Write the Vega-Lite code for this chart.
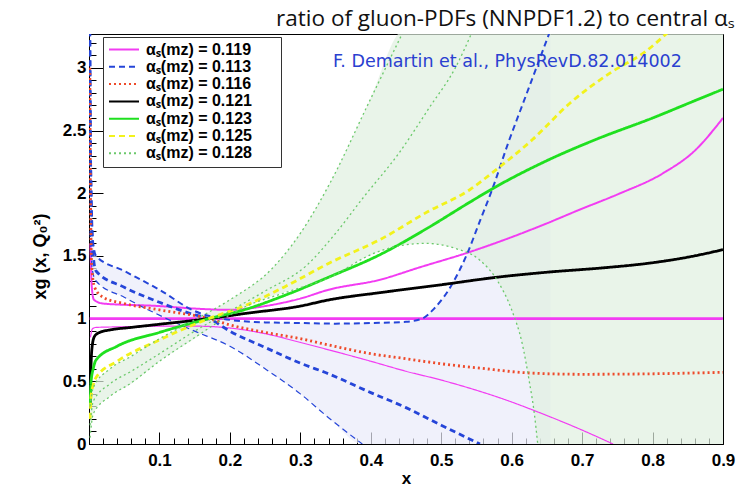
{
  "$schema": "https://vega.github.io/schema/vega-lite/v6.json",
  "width": 634,
  "height": 410,
  "autosize": {"type": "none"},
  "padding": {"left": 89, "top": 34, "right": 14, "bottom": 44},
  "background": "white",
  "config": {"view": {"stroke": "#000", "strokeWidth": 1}},
  "title": {"text": "ratio of gluon-PDFs (NNPDF1.2) to central αₛ", "font": "Open Sans", "fontSize": 22.5, "fontWeight": "normal", "color": "#111", "anchor": "end", "offset": 3},
  "datasets": {
    "notes": [
      {"note": "F. Demartin et al., PhysRevD.82.014002", "x": 0.594, "y": 3.05}
    ],
    "bands": [
      {"b": "0.113", "x": 0.0015, "y": 1.7, "hi": 3.3},
      {"b": "0.113", "x": 0.006, "y": 1.35, "hi": 1.6},
      {"b": "0.113", "x": 0.01, "y": 1.3, "hi": 1.5},
      {"b": "0.113", "x": 0.05, "y": 1.17, "hi": 1.38},
      {"b": "0.113", "x": 0.11, "y": 1.0, "hi": 1.2},
      {"b": "0.113", "x": 0.15, "y": 0.9, "hi": 1.06},
      {"b": "0.113", "x": 0.2, "y": 0.78, "hi": 0.99},
      {"b": "0.113", "x": 0.25, "y": 0.6, "hi": 0.97},
      {"b": "0.113", "x": 0.3, "y": 0.4, "hi": 0.965},
      {"b": "0.113", "x": 0.34, "y": 0.21, "hi": 0.96},
      {"b": "0.113", "x": 0.388, "y": 0, "hi": 0.965},
      {"b": "0.113", "x": 0.45, "y": 0, "hi": 0.975},
      {"b": "0.113", "x": 0.473, "y": 0, "hi": 1.0},
      {"b": "0.113", "x": 0.49, "y": 0, "hi": 1.08},
      {"b": "0.113", "x": 0.516, "y": 0, "hi": 1.28},
      {"b": "0.113", "x": 0.537, "y": 0, "hi": 1.52},
      {"b": "0.113", "x": 0.555, "y": 0, "hi": 1.78},
      {"b": "0.113", "x": 0.573, "y": 0, "hi": 2.04},
      {"b": "0.113", "x": 0.595, "y": 0, "hi": 2.4},
      {"b": "0.113", "x": 0.617, "y": 0, "hi": 2.73},
      {"b": "0.113", "x": 0.635, "y": 0, "hi": 3.0},
      {"b": "0.113", "x": 0.655, "y": 0, "hi": 3.3},
      {"b": "0.128", "x": 0.0015, "y": 0.05, "hi": 0.3},
      {"b": "0.128", "x": 0.006, "y": 0.24, "hi": 0.45},
      {"b": "0.128", "x": 0.03, "y": 0.38, "hi": 0.6},
      {"b": "0.128", "x": 0.06, "y": 0.48, "hi": 0.7},
      {"b": "0.128", "x": 0.1, "y": 0.66, "hi": 0.84},
      {"b": "0.128", "x": 0.15, "y": 0.84, "hi": 0.99},
      {"b": "0.128", "x": 0.2, "y": 1.03, "hi": 1.15},
      {"b": "0.128", "x": 0.26, "y": 1.18, "hi": 1.4},
      {"b": "0.128", "x": 0.3, "y": 1.25, "hi": 1.68},
      {"b": "0.128", "x": 0.342, "y": 1.33, "hi": 2.08},
      {"b": "0.128", "x": 0.397, "y": 1.5, "hi": 2.72},
      {"b": "0.128", "x": 0.447, "y": 1.59, "hi": 3.3},
      {"b": "0.128", "x": 0.478, "y": 1.6, "hi": 3.3},
      {"b": "0.128", "x": 0.52, "y": 1.56, "hi": 3.3},
      {"b": "0.128", "x": 0.554, "y": 1.47, "hi": 3.3},
      {"b": "0.128", "x": 0.58, "y": 1.3, "hi": 3.3},
      {"b": "0.128", "x": 0.6, "y": 1.07, "hi": 3.3},
      {"b": "0.128", "x": 0.615, "y": 0.8, "hi": 3.3},
      {"b": "0.128", "x": 0.625, "y": 0.5, "hi": 3.3},
      {"b": "0.128", "x": 0.632, "y": 0.25, "hi": 3.3},
      {"b": "0.128", "x": 0.637, "y": 0, "hi": 3.3},
      {"b": "0.128", "x": 0.9, "y": 0, "hi": 3.3}
    ],
    "lines": [
      {"s": "0.119", "k": "central", "x": 0.001, "y": 1},
      {"s": "0.119", "k": "central", "x": 0.9, "y": 1},
      {"s": "0.119", "k": "upper", "x": 0.002, "y": 1.6},
      {"s": "0.119", "k": "upper", "x": 0.004, "y": 1.25},
      {"s": "0.119", "k": "upper", "x": 0.007, "y": 1.15},
      {"s": "0.119", "k": "upper", "x": 0.02, "y": 1.12},
      {"s": "0.119", "k": "upper", "x": 0.1, "y": 1.1},
      {"s": "0.119", "k": "upper", "x": 0.15, "y": 1.08},
      {"s": "0.119", "k": "upper", "x": 0.2, "y": 1.07},
      {"s": "0.119", "k": "upper", "x": 0.25, "y": 1.1},
      {"s": "0.119", "k": "upper", "x": 0.3, "y": 1.16},
      {"s": "0.119", "k": "upper", "x": 0.34, "y": 1.23},
      {"s": "0.119", "k": "upper", "x": 0.413, "y": 1.31},
      {"s": "0.119", "k": "upper", "x": 0.47, "y": 1.41},
      {"s": "0.119", "k": "upper", "x": 0.538, "y": 1.527},
      {"s": "0.119", "k": "upper", "x": 0.6, "y": 1.65},
      {"s": "0.119", "k": "upper", "x": 0.65, "y": 1.76},
      {"s": "0.119", "k": "upper", "x": 0.697, "y": 1.87},
      {"s": "0.119", "k": "upper", "x": 0.75, "y": 1.99},
      {"s": "0.119", "k": "upper", "x": 0.815, "y": 2.16},
      {"s": "0.119", "k": "upper", "x": 0.86, "y": 2.34},
      {"s": "0.119", "k": "upper", "x": 0.9, "y": 2.6},
      {"s": "0.119", "k": "lower", "x": 0.002, "y": 0.85},
      {"s": "0.119", "k": "lower", "x": 0.005, "y": 0.92},
      {"s": "0.119", "k": "lower", "x": 0.01, "y": 0.93},
      {"s": "0.119", "k": "lower", "x": 0.05, "y": 0.935},
      {"s": "0.119", "k": "lower", "x": 0.1, "y": 0.94},
      {"s": "0.119", "k": "lower", "x": 0.15, "y": 0.94},
      {"s": "0.119", "k": "lower", "x": 0.2, "y": 0.925},
      {"s": "0.119", "k": "lower", "x": 0.25, "y": 0.88},
      {"s": "0.119", "k": "lower", "x": 0.3, "y": 0.81},
      {"s": "0.119", "k": "lower", "x": 0.341, "y": 0.75},
      {"s": "0.119", "k": "lower", "x": 0.4, "y": 0.66},
      {"s": "0.119", "k": "lower", "x": 0.45, "y": 0.58},
      {"s": "0.119", "k": "lower", "x": 0.5, "y": 0.51},
      {"s": "0.119", "k": "lower", "x": 0.541, "y": 0.444},
      {"s": "0.119", "k": "lower", "x": 0.59, "y": 0.355},
      {"s": "0.119", "k": "lower", "x": 0.636, "y": 0.258},
      {"s": "0.119", "k": "lower", "x": 0.69, "y": 0.135},
      {"s": "0.119", "k": "lower", "x": 0.744, "y": 0},
      {"s": "0.113", "k": "central", "x": 0.0012, "y": 3.3},
      {"s": "0.113", "k": "central", "x": 0.002, "y": 2.4},
      {"s": "0.113", "k": "central", "x": 0.004, "y": 1.7},
      {"s": "0.113", "k": "central", "x": 0.007, "y": 1.45},
      {"s": "0.113", "k": "central", "x": 0.01, "y": 1.38},
      {"s": "0.113", "k": "central", "x": 0.05, "y": 1.25},
      {"s": "0.113", "k": "central", "x": 0.1, "y": 1.13},
      {"s": "0.113", "k": "central", "x": 0.15, "y": 1.03},
      {"s": "0.113", "k": "central", "x": 0.17, "y": 1.0},
      {"s": "0.113", "k": "central", "x": 0.2, "y": 0.9},
      {"s": "0.113", "k": "central", "x": 0.25, "y": 0.77},
      {"s": "0.113", "k": "central", "x": 0.3, "y": 0.645},
      {"s": "0.113", "k": "central", "x": 0.34, "y": 0.56},
      {"s": "0.113", "k": "central", "x": 0.4, "y": 0.41},
      {"s": "0.113", "k": "central", "x": 0.45, "y": 0.29},
      {"s": "0.113", "k": "central", "x": 0.5, "y": 0.15},
      {"s": "0.113", "k": "central", "x": 0.555, "y": 0},
      {"s": "0.113", "k": "upper", "x": 0.0015, "y": 3.3},
      {"s": "0.113", "k": "upper", "x": 0.003, "y": 2.2},
      {"s": "0.113", "k": "upper", "x": 0.006, "y": 1.6},
      {"s": "0.113", "k": "upper", "x": 0.01, "y": 1.5},
      {"s": "0.113", "k": "upper", "x": 0.05, "y": 1.38},
      {"s": "0.113", "k": "upper", "x": 0.1, "y": 1.23},
      {"s": "0.113", "k": "upper", "x": 0.15, "y": 1.06},
      {"s": "0.113", "k": "upper", "x": 0.2, "y": 0.99},
      {"s": "0.113", "k": "upper", "x": 0.25, "y": 0.97},
      {"s": "0.113", "k": "upper", "x": 0.3, "y": 0.965},
      {"s": "0.113", "k": "upper", "x": 0.35, "y": 0.96},
      {"s": "0.113", "k": "upper", "x": 0.4, "y": 0.965},
      {"s": "0.113", "k": "upper", "x": 0.45, "y": 0.975},
      {"s": "0.113", "k": "upper", "x": 0.473, "y": 1.0},
      {"s": "0.113", "k": "upper", "x": 0.49, "y": 1.08},
      {"s": "0.113", "k": "upper", "x": 0.516, "y": 1.28},
      {"s": "0.113", "k": "upper", "x": 0.537, "y": 1.52},
      {"s": "0.113", "k": "upper", "x": 0.555, "y": 1.78},
      {"s": "0.113", "k": "upper", "x": 0.573, "y": 2.04},
      {"s": "0.113", "k": "upper", "x": 0.595, "y": 2.4},
      {"s": "0.113", "k": "upper", "x": 0.617, "y": 2.73},
      {"s": "0.113", "k": "upper", "x": 0.635, "y": 3.0},
      {"s": "0.113", "k": "upper", "x": 0.655, "y": 3.3},
      {"s": "0.113", "k": "lower", "x": 0.0015, "y": 1.7},
      {"s": "0.113", "k": "lower", "x": 0.005, "y": 1.38},
      {"s": "0.113", "k": "lower", "x": 0.01, "y": 1.3},
      {"s": "0.113", "k": "lower", "x": 0.05, "y": 1.17},
      {"s": "0.113", "k": "lower", "x": 0.11, "y": 1.0},
      {"s": "0.113", "k": "lower", "x": 0.15, "y": 0.9},
      {"s": "0.113", "k": "lower", "x": 0.2, "y": 0.78},
      {"s": "0.113", "k": "lower", "x": 0.25, "y": 0.6},
      {"s": "0.113", "k": "lower", "x": 0.3, "y": 0.4},
      {"s": "0.113", "k": "lower", "x": 0.34, "y": 0.21},
      {"s": "0.113", "k": "lower", "x": 0.388, "y": 0},
      {"s": "0.116", "k": "central", "x": 0.0012, "y": 3.0},
      {"s": "0.116", "k": "central", "x": 0.002, "y": 2.0},
      {"s": "0.116", "k": "central", "x": 0.004, "y": 1.4},
      {"s": "0.116", "k": "central", "x": 0.008, "y": 1.25},
      {"s": "0.116", "k": "central", "x": 0.02, "y": 1.17},
      {"s": "0.116", "k": "central", "x": 0.05, "y": 1.12},
      {"s": "0.116", "k": "central", "x": 0.1, "y": 1.07},
      {"s": "0.116", "k": "central", "x": 0.17, "y": 1.0},
      {"s": "0.116", "k": "central", "x": 0.2, "y": 0.95},
      {"s": "0.116", "k": "central", "x": 0.25, "y": 0.89},
      {"s": "0.116", "k": "central", "x": 0.3, "y": 0.84},
      {"s": "0.116", "k": "central", "x": 0.34, "y": 0.79},
      {"s": "0.116", "k": "central", "x": 0.4, "y": 0.72},
      {"s": "0.116", "k": "central", "x": 0.45, "y": 0.68},
      {"s": "0.116", "k": "central", "x": 0.5, "y": 0.64},
      {"s": "0.116", "k": "central", "x": 0.555, "y": 0.605},
      {"s": "0.116", "k": "central", "x": 0.626, "y": 0.566},
      {"s": "0.116", "k": "central", "x": 0.7, "y": 0.556},
      {"s": "0.116", "k": "central", "x": 0.8, "y": 0.56},
      {"s": "0.116", "k": "central", "x": 0.9, "y": 0.572},
      {"s": "0.121", "k": "central", "x": 0.0015, "y": 0.3},
      {"s": "0.121", "k": "central", "x": 0.003, "y": 0.65},
      {"s": "0.121", "k": "central", "x": 0.005, "y": 0.8},
      {"s": "0.121", "k": "central", "x": 0.008, "y": 0.86},
      {"s": "0.121", "k": "central", "x": 0.015, "y": 0.89},
      {"s": "0.121", "k": "central", "x": 0.03, "y": 0.91},
      {"s": "0.121", "k": "central", "x": 0.06, "y": 0.93},
      {"s": "0.121", "k": "central", "x": 0.1, "y": 0.955},
      {"s": "0.121", "k": "central", "x": 0.17, "y": 1.0},
      {"s": "0.121", "k": "central", "x": 0.22, "y": 1.04},
      {"s": "0.121", "k": "central", "x": 0.3, "y": 1.1},
      {"s": "0.121", "k": "central", "x": 0.341, "y": 1.15},
      {"s": "0.121", "k": "central", "x": 0.413, "y": 1.207},
      {"s": "0.121", "k": "central", "x": 0.5, "y": 1.27},
      {"s": "0.121", "k": "central", "x": 0.579, "y": 1.33},
      {"s": "0.121", "k": "central", "x": 0.65, "y": 1.37},
      {"s": "0.121", "k": "central", "x": 0.73, "y": 1.405},
      {"s": "0.121", "k": "central", "x": 0.792, "y": 1.44},
      {"s": "0.121", "k": "central", "x": 0.85, "y": 1.49},
      {"s": "0.121", "k": "central", "x": 0.9, "y": 1.55},
      {"s": "0.123", "k": "central", "x": 0.0015, "y": 0.3},
      {"s": "0.123", "k": "central", "x": 0.003, "y": 0.5},
      {"s": "0.123", "k": "central", "x": 0.006, "y": 0.6},
      {"s": "0.123", "k": "central", "x": 0.01, "y": 0.67},
      {"s": "0.123", "k": "central", "x": 0.04, "y": 0.78},
      {"s": "0.123", "k": "central", "x": 0.1, "y": 0.89},
      {"s": "0.123", "k": "central", "x": 0.17, "y": 1.0},
      {"s": "0.123", "k": "central", "x": 0.22, "y": 1.07},
      {"s": "0.123", "k": "central", "x": 0.28, "y": 1.19},
      {"s": "0.123", "k": "central", "x": 0.34, "y": 1.33},
      {"s": "0.123", "k": "central", "x": 0.413, "y": 1.51},
      {"s": "0.123", "k": "central", "x": 0.48, "y": 1.72},
      {"s": "0.123", "k": "central", "x": 0.541, "y": 1.93},
      {"s": "0.123", "k": "central", "x": 0.574, "y": 2.04},
      {"s": "0.123", "k": "central", "x": 0.65, "y": 2.26},
      {"s": "0.123", "k": "central", "x": 0.72, "y": 2.43},
      {"s": "0.123", "k": "central", "x": 0.8, "y": 2.6},
      {"s": "0.123", "k": "central", "x": 0.863, "y": 2.745},
      {"s": "0.123", "k": "central", "x": 0.9, "y": 2.83},
      {"s": "0.125", "k": "central", "x": 0.0015, "y": 0.2},
      {"s": "0.125", "k": "central", "x": 0.003, "y": 0.38},
      {"s": "0.125", "k": "central", "x": 0.006, "y": 0.47},
      {"s": "0.125", "k": "central", "x": 0.01, "y": 0.53},
      {"s": "0.125", "k": "central", "x": 0.04, "y": 0.66},
      {"s": "0.125", "k": "central", "x": 0.1, "y": 0.83},
      {"s": "0.125", "k": "central", "x": 0.17, "y": 1.0},
      {"s": "0.125", "k": "central", "x": 0.22, "y": 1.1},
      {"s": "0.125", "k": "central", "x": 0.28, "y": 1.26},
      {"s": "0.125", "k": "central", "x": 0.34, "y": 1.44},
      {"s": "0.125", "k": "central", "x": 0.413, "y": 1.63},
      {"s": "0.125", "k": "central", "x": 0.48, "y": 1.85},
      {"s": "0.125", "k": "central", "x": 0.541, "y": 2.03},
      {"s": "0.125", "k": "central", "x": 0.574, "y": 2.17},
      {"s": "0.125", "k": "central", "x": 0.63, "y": 2.43},
      {"s": "0.125", "k": "central", "x": 0.683, "y": 2.72},
      {"s": "0.125", "k": "central", "x": 0.74, "y": 2.96},
      {"s": "0.125", "k": "central", "x": 0.79, "y": 3.13},
      {"s": "0.125", "k": "central", "x": 0.825, "y": 3.3},
      {"s": "0.128", "k": "upper", "x": 0.0015, "y": 0.3},
      {"s": "0.128", "k": "upper", "x": 0.006, "y": 0.45},
      {"s": "0.128", "k": "upper", "x": 0.03, "y": 0.6},
      {"s": "0.128", "k": "upper", "x": 0.06, "y": 0.7},
      {"s": "0.128", "k": "upper", "x": 0.1, "y": 0.84},
      {"s": "0.128", "k": "upper", "x": 0.15, "y": 0.99},
      {"s": "0.128", "k": "upper", "x": 0.2, "y": 1.15},
      {"s": "0.128", "k": "upper", "x": 0.26, "y": 1.4},
      {"s": "0.128", "k": "upper", "x": 0.3, "y": 1.68},
      {"s": "0.128", "k": "upper", "x": 0.342, "y": 2.08},
      {"s": "0.128", "k": "upper", "x": 0.397, "y": 2.72},
      {"s": "0.128", "k": "upper", "x": 0.447, "y": 3.3},
      {"s": "0.128", "k": "central", "x": 0.0015, "y": 0.15},
      {"s": "0.128", "k": "central", "x": 0.006, "y": 0.34},
      {"s": "0.128", "k": "central", "x": 0.03, "y": 0.48},
      {"s": "0.128", "k": "central", "x": 0.06, "y": 0.58},
      {"s": "0.128", "k": "central", "x": 0.1, "y": 0.72},
      {"s": "0.128", "k": "central", "x": 0.15, "y": 0.9},
      {"s": "0.128", "k": "central", "x": 0.2, "y": 1.06},
      {"s": "0.128", "k": "central", "x": 0.25, "y": 1.22},
      {"s": "0.128", "k": "central", "x": 0.308, "y": 1.42},
      {"s": "0.128", "k": "central", "x": 0.35, "y": 1.68},
      {"s": "0.128", "k": "central", "x": 0.39, "y": 1.97},
      {"s": "0.128", "k": "central", "x": 0.44, "y": 2.32},
      {"s": "0.128", "k": "central", "x": 0.484, "y": 2.69},
      {"s": "0.128", "k": "central", "x": 0.52, "y": 3.0},
      {"s": "0.128", "k": "central", "x": 0.545, "y": 3.3},
      {"s": "0.128", "k": "lower", "x": 0.0015, "y": 0.05},
      {"s": "0.128", "k": "lower", "x": 0.006, "y": 0.24},
      {"s": "0.128", "k": "lower", "x": 0.03, "y": 0.38},
      {"s": "0.128", "k": "lower", "x": 0.058, "y": 0.48},
      {"s": "0.128", "k": "lower", "x": 0.1, "y": 0.66},
      {"s": "0.128", "k": "lower", "x": 0.153, "y": 0.86},
      {"s": "0.128", "k": "lower", "x": 0.2, "y": 1.03},
      {"s": "0.128", "k": "lower", "x": 0.224, "y": 1.1},
      {"s": "0.128", "k": "lower", "x": 0.28, "y": 1.21},
      {"s": "0.128", "k": "lower", "x": 0.342, "y": 1.33},
      {"s": "0.128", "k": "lower", "x": 0.404, "y": 1.52},
      {"s": "0.128", "k": "lower", "x": 0.44, "y": 1.58},
      {"s": "0.128", "k": "lower", "x": 0.478, "y": 1.6},
      {"s": "0.128", "k": "lower", "x": 0.52, "y": 1.56},
      {"s": "0.128", "k": "lower", "x": 0.554, "y": 1.47},
      {"s": "0.128", "k": "lower", "x": 0.58, "y": 1.3},
      {"s": "0.128", "k": "lower", "x": 0.6, "y": 1.07},
      {"s": "0.128", "k": "lower", "x": 0.615, "y": 0.8},
      {"s": "0.128", "k": "lower", "x": 0.625, "y": 0.5},
      {"s": "0.128", "k": "lower", "x": 0.632, "y": 0.25},
      {"s": "0.128", "k": "lower", "x": 0.637, "y": 0}
    ]
  },
  "encoding": {
    "x": {
      "field": "x", "type": "quantitative",
      "scale": {"domain": [0, 0.9], "nice": false, "zero": false},
      "axis": {
        "values": [0.02,0.04,0.06,0.08,0.1,0.12,0.14,0.16,0.18,0.2,0.22,0.24,0.26,0.28,0.3,0.32,0.34,0.36,0.38,0.4,0.42,0.44,0.46,0.48,0.5,0.52,0.54,0.56,0.58,0.6,0.62,0.64,0.66,0.68,0.7,0.72,0.74,0.76,0.78,0.8,0.82,0.84,0.86,0.88,0.9],
        "title": "x", "titleFont": "Liberation Sans", "titleFontSize": 17, "titleFontWeight": "bold", "titleColor": "#000", "titlePadding": -4,
        "labelFont": "Liberation Sans", "labelFontSize": 17, "labelFontWeight": "bold", "labelColor": "#000",
        "labelExpr": "abs(datum.value*10 - round(datum.value*10)) < 0.001 ? format(datum.value, '.1f') : ''",
        "labelOverlap": false, "labelFlush": false, "grid": false,
        "domainColor": "#000", "tickColor": "#000",
        "tickSize": {"condition": {"test": "abs(datum.value*10 - round(datum.value*10)) < 0.001", "value": -12}, "value": -6},
        "labelPadding": 20
      }
    },
    "y": {
      "field": "y", "type": "quantitative",
      "scale": {"domain": [0, 3.27], "nice": false, "zero": false},
      "axis": {
        "values": [0,0.1,0.2,0.3,0.4,0.5,0.6,0.7,0.8,0.9,1,1.1,1.2,1.3,1.4,1.5,1.6,1.7,1.8,1.9,2,2.1,2.2,2.3,2.4,2.5,2.6,2.7,2.8,2.9,3,3.1,3.2],
        "title": "xg (x, Q₀²)", "titleFont": "Liberation Sans", "titleFontSize": 18, "titleFontWeight": "bold", "titleColor": "#000",
        "titleX": -49, "titleY": 222, "titleBaseline": "middle", "titleAlign": "center", "titleAngle": -90,
        "labelFont": "Liberation Sans", "labelFontSize": 17, "labelFontWeight": "bold", "labelColor": "#000",
        "labelExpr": "abs(datum.value*2 - round(datum.value*2)) < 0.001 ? format(datum.value, '~g') : ''",
        "labelOverlap": false, "labelFlush": false, "grid": false,
        "domainColor": "#000", "tickColor": "#000",
        "tickSize": {"condition": {"test": "abs(datum.value*2 - round(datum.value*2)) < 0.001", "value": -14}, "value": -7},
        "labelPadding": 17
      }
    }
  },
  "layer": [
    {
      "data": {"name": "bands"},
      "mark": {"type": "area", "clip": true, "opacity": 0.7, "interpolate": "monotone"},
      "encoding": {
        "y2": {"field": "hi"},
        "fill": {"field": "b", "type": "nominal", "scale": {"domain": ["0.113", "0.128"], "range": ["#e9ebfa", "#e0f0e0"]}, "legend": null}
      }
    },
    {
      "data": {"name": "lines"},
      "transform": [{"filter": "datum.s !== '0.128'"}],
      "mark": {"type": "line", "clip": true, "interpolate": "monotone"},
      "encoding": {
        "color": {"field": "s", "type": "nominal", "scale": {"domain": ["0.119", "0.113", "0.116", "0.121", "0.123", "0.125", "0.128"], "range": ["#f23cf2", "#2545d8", "#ee4a2a", "#000000", "#1fe01f", "#f2f21c", "#6cc96c"]},
          "legend": {"title": null, "orient": "none", "legendX": 14, "legendY": 3, "fillColor": "white", "strokeColor": "#333", "padding": 5, "symbolType": "stroke", "symbolSize": 900, "symbolStrokeWidth": 2, "clipHeight": 15, "labelFont": "Liberation Sans", "labelFontWeight": "bold", "labelFontSize": 16, "labelColor": "#000", "rowPadding": 0.3, "labelOffset": 6, "labelLimit": 400, "labelExpr": "'αₛ(mz) = ' + datum.label + '\u2800\u2800'"}},
        "strokeDash": {"field": "s", "type": "nominal", "scale": {"domain": ["0.119", "0.113", "0.116", "0.121", "0.123", "0.125", "0.128"], "range": [[1, 0], [6, 4], [2, 3], [1, 0], [1, 0], [6, 4], [2, 3]]},
          "legend": {"title": null, "orient": "none", "legendX": 14, "legendY": 3, "fillColor": "white", "strokeColor": "#333", "padding": 5, "symbolType": "stroke", "symbolSize": 900, "symbolStrokeWidth": 2, "clipHeight": 15, "labelFont": "Liberation Sans", "labelFontWeight": "bold", "labelFontSize": 16, "labelColor": "#000", "rowPadding": 0.3, "labelOffset": 6, "labelLimit": 400, "labelExpr": "'αₛ(mz) = ' + datum.label + '\u2800\u2800'"}},
        "strokeWidth": {"field": "k", "type": "nominal", "scale": {"domain": ["central", "upper", "lower"], "range": [2.8, 1.2, 1.2]}, "legend": null},
        "detail": {"field": "k"}
      }
    },
    {
      "data": {"name": "lines"},
      "transform": [{"filter": "datum.s === '0.128'"}],
      "mark": {"type": "line", "clip": true, "strokeWidth": 1.3, "interpolate": "monotone"},
      "encoding": {
        "color": {"field": "s", "type": "nominal"},
        "strokeDash": {"field": "s", "type": "nominal"},
        "detail": {"field": "k"}
      }
    },
    {
      "data": {"name": "notes"},
      "mark": {"type": "text", "font": "DejaVu Sans", "fontSize": 17.5, "fill": "#2a40d0", "align": "center", "baseline": "middle"},
      "encoding": {
        "text": {"field": "note", "type": "nominal"}
      }
    }
  ]
}
